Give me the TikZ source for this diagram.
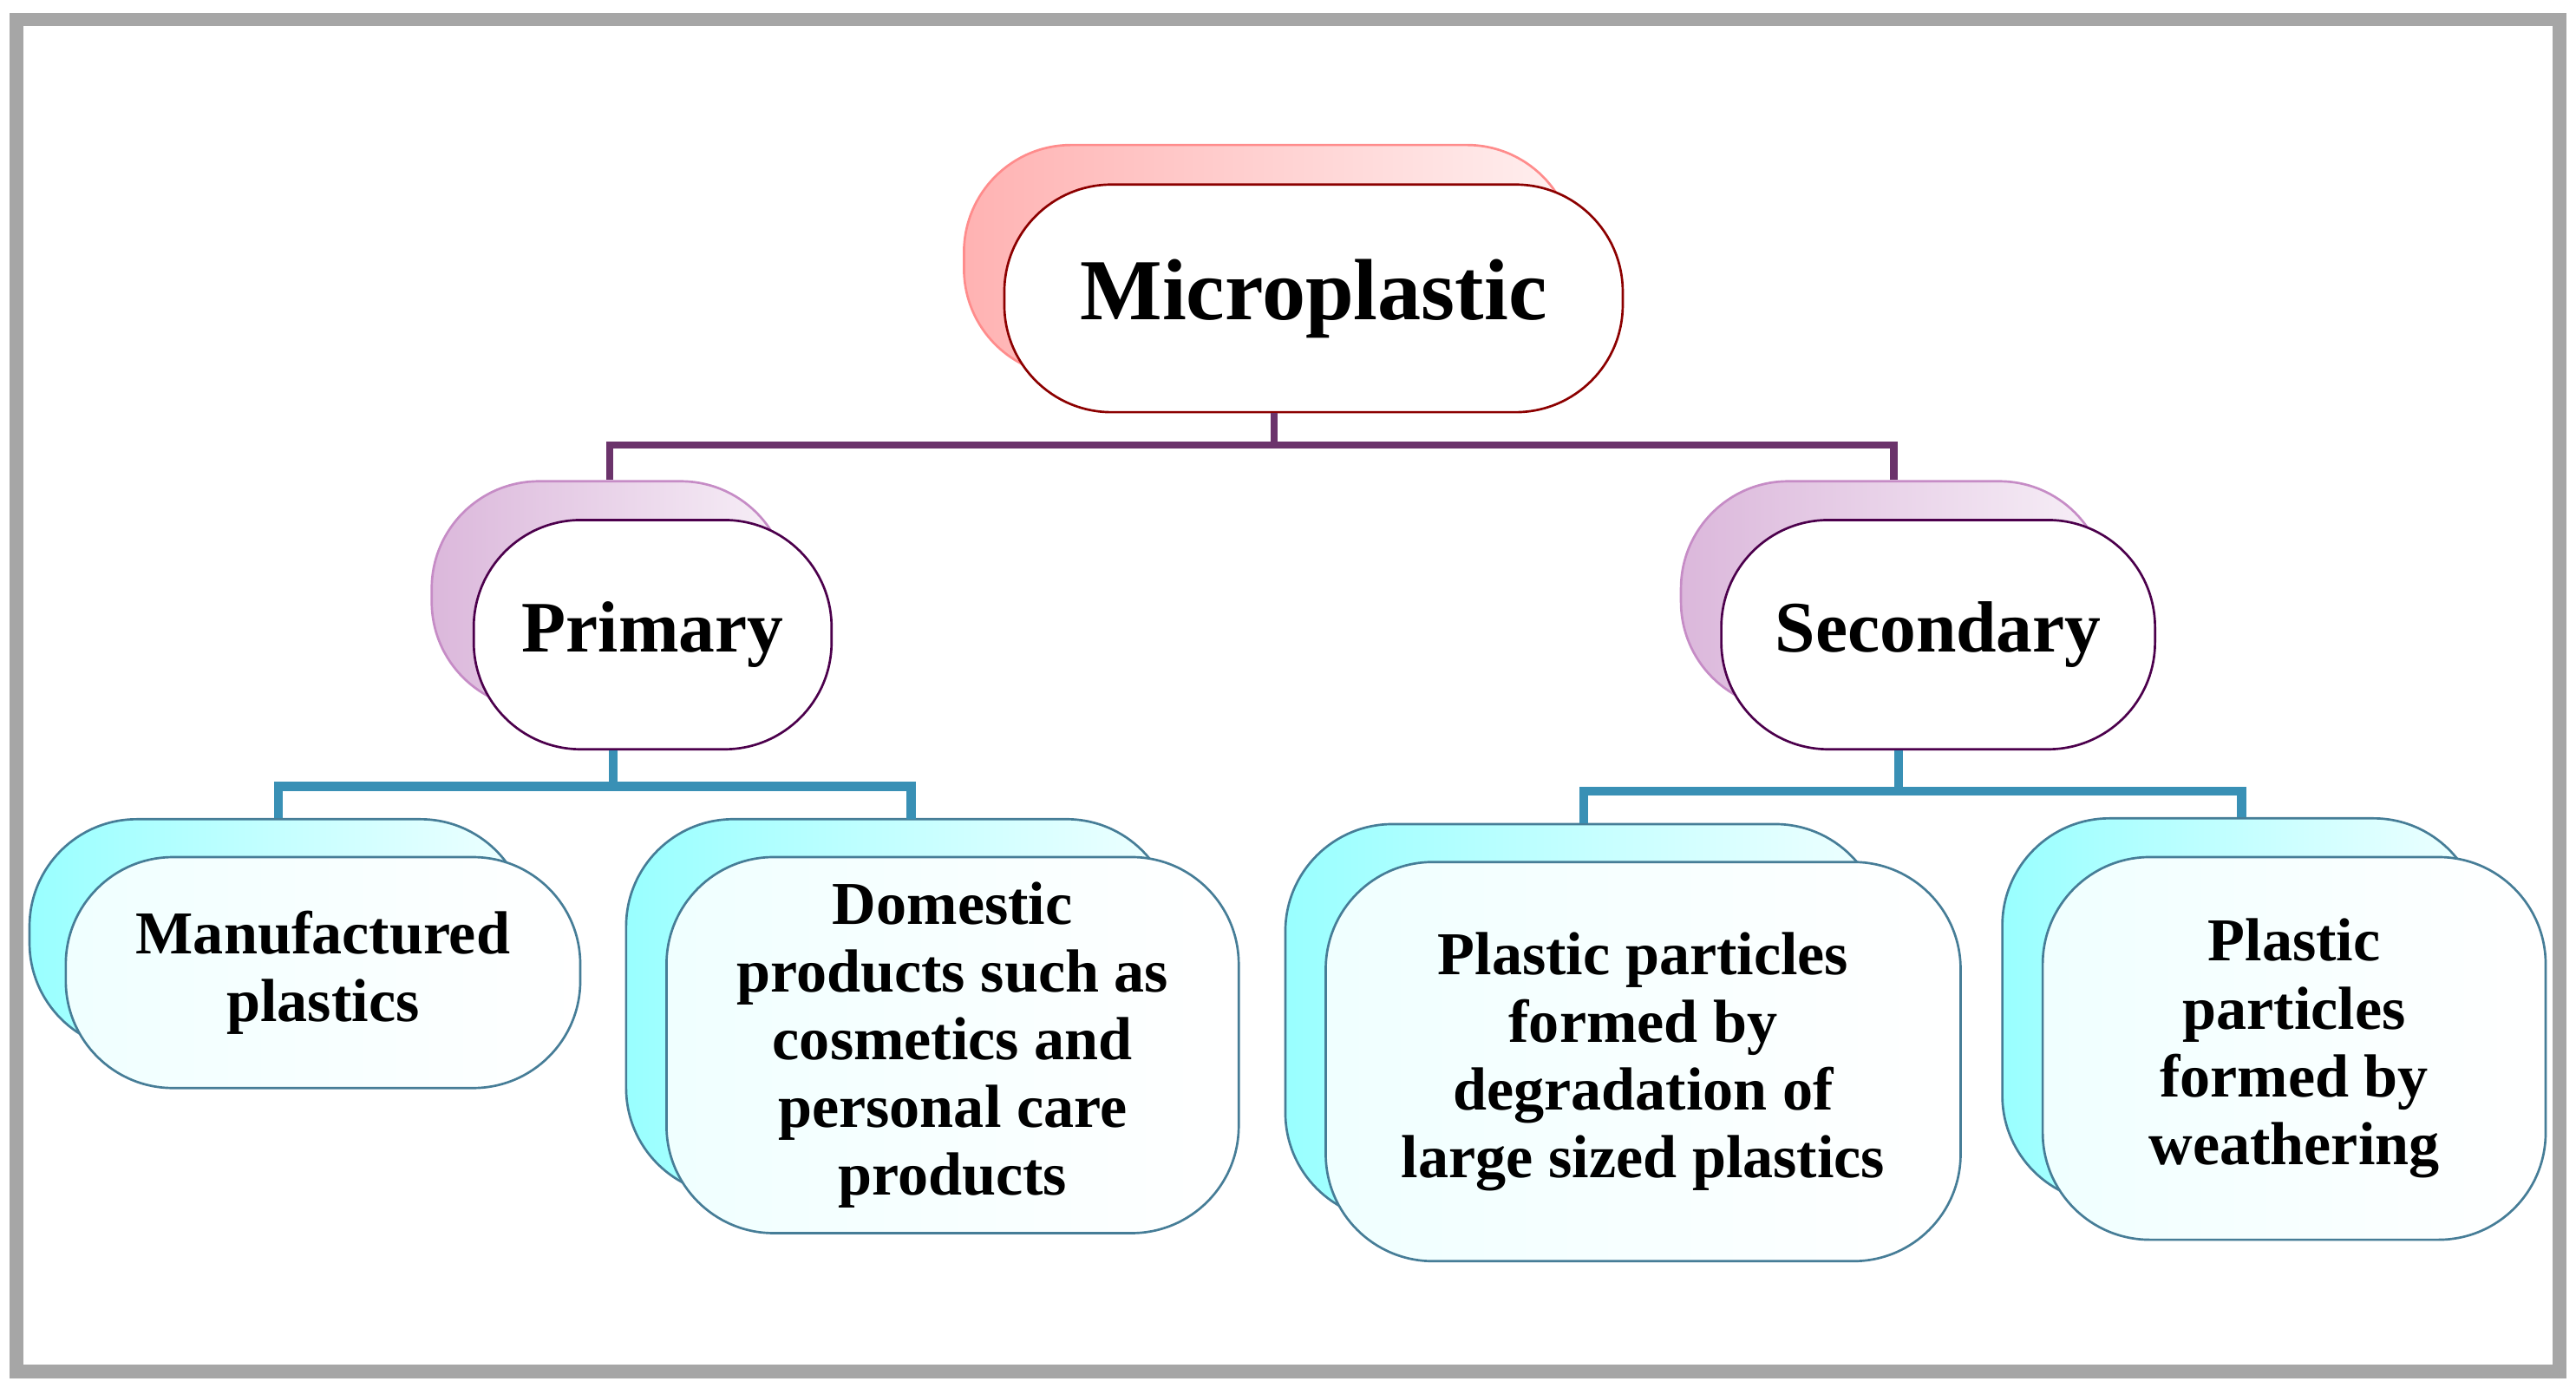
\documentclass[tikz,border=0pt]{standalone}
\usepackage{fontspec}
\setmainfont{Liberation Serif}
\begin{document}
\begin{tikzpicture}[x=0.01cm,y=-0.01cm,
 box/.style={draw,rounded corners=0.65cm,inner sep=0pt,align=center,font=\bfseries},
 backR/.style={box,draw=red!45,left color=red!30,right color=red!6},
 frontR/.style={box,draw=red!55!black,fill=white,font=\bfseries\fontsize{15}{17}\selectfont},
 backP/.style={box,draw=violet!45,left color=violet!28,right color=violet!6},
 frontP/.style={box,draw=violet!60!black,fill=white,font=\bfseries\fontsize{12.5}{14}\selectfont},
 backT/.style={box,draw=cyan!55!black,left color=cyan!40,right color=cyan!6},
 frontT/.style={box,draw=cyan!55!black,left color=cyan!6,right color=white,font=\bfseries\fontsize{10.5}{11.7}\selectfont},
 conP/.style={draw=violet!55!black!80,line width=1.3pt},
 conT/.style={draw=cyan!70!black,line width=1.6pt}]
\useasboundingbox (0,0) rectangle (1563,842);
\draw[gray!70,line width=2.3pt] (10,12) rectangle (1553,832);
% Microplastic
\node[backR,minimum width=3.7cm,minimum height=1.4cm] (mb) at (770,158) {};
\node[frontR,minimum width=3.75cm,minimum height=1.38cm] (m) at (797,181) {Microplastic};
% Primary / Secondary
\node[backP,minimum width=2.16cm,minimum height=1.38cm] (pb) at (370,361) {};
\node[frontP,minimum width=2.17cm,minimum height=1.39cm] (p) at (396,385) {Primary};
\node[backP,minimum width=2.58cm,minimum height=1.38cm] (sb) at (1149,361) {};
\node[frontP,minimum width=2.63cm,minimum height=1.39cm] (s) at (1176,385) {Secondary};
% Leaves
\node[backT,minimum width=3.02cm,minimum height=1.4cm] (ab) at (169,567) {};
\node[frontT,minimum width=3.12cm,minimum height=1.4cm] (a) at (196,590) {Manufactured\\plastics};
\node[backT,minimum width=3.32cm,minimum height=2.28cm] (bb) at (546,611) {};
\node[frontT,minimum width=3.47cm,minimum height=2.28cm] (b) at (578,634) {Domestic\\products such as\\cosmetics and\\personal care\\products};
\node[backT,minimum width=3.62cm,minimum height=2.4cm] (cb) at (961,620) {};
\node[frontT,minimum width=3.85cm,minimum height=2.42cm] (c) at (997,644) {Plastic particles\\formed by\\degradation of\\large sized plastics};
\node[backT,minimum width=2.9cm,minimum height=2.33cm] (db) at (1360,613) {};
\node[frontT,minimum width=3.05cm,minimum height=2.32cm] (d) at (1392,636) {Plastic\\particles\\formed by\\weathering};
% connectors
\coordinate (j1) at (773,270);
\draw[conP] (m.south -| j1) -- (j1) -| (pb.north);
\draw[conP] (j1) -| (sb.north);
\coordinate (j2) at (372,477);
\draw[conT] (p.south -| j2) -- (j2) -| (ab.north);
\draw[conT] (j2) -| (553,497) coordinate (e2) -- (e2 |- bb.north);
\coordinate (j3) at (1152,480);
\draw[conT] (s.south -| j3) -- (j3) -| (cb.north);
\draw[conT] (j3) -| (db.north);
\end{tikzpicture}
\end{document}
